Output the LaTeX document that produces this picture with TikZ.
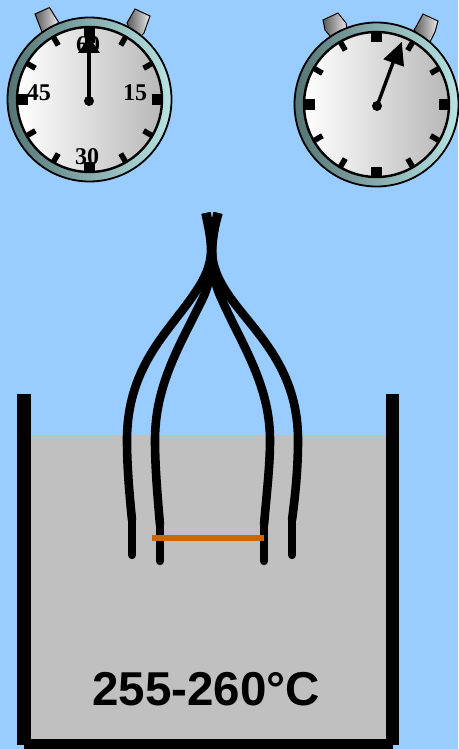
\documentclass[tikz,border=0pt]{standalone}
\usepackage{fontspec}
\setmainfont{Liberation Serif}
\newfontfamily\labelsans{Liberation Sans}
\definecolor{bgblue}{HTML}{99CCFF}
\definecolor{bathgrey}{HTML}{C0C0C0}
\definecolor{ringdark}{HTML}{557474}
\definecolor{ringlight}{HTML}{B8E4E4}
\definecolor{facegrey}{HTML}{B8B8B8}
\definecolor{barorange}{HTML}{CC6600}
\tikzset{
  wire/.style={line width=8.6pt,black,line cap=butt},
  wirestub/.style={line width=8.4pt,black,line cap=round},
  ring/.style={draw=black,line width=1.8pt,left color=ringdark,right color=ringlight},
  face/.style={draw=black,line width=2.4pt,left color=white,right color=facegrey},
  knob/.style={draw=black,line width=1pt,left color=black!65,right color=white!92!black},
  smalltick/.style={black,line width=5.5pt},
  bigtick/.style={black,line width=10.5pt},
  hand/.style={black,line width=3.4pt},
  dial/.style={font=\fontsize{24}{24}\selectfont\bfseries,inner sep=0pt},
  tempbox/.style={font=\labelsans\fontsize{47.5}{48}\selectfont\bfseries,inner sep=0pt},
  pics/stopclock/.style={code={
    \path[ring] (0,0) circle (82);
    \path[face] (0,0) circle (72.5);
    \foreach \a in {30,60,120,150,210,240,300,330}
      \draw[smalltick] (\a:62.5) -- (\a:73);
    \foreach \a in {0,90,180,270}
      \draw[bigtick] (\a:62) -- (\a:73);
  }},
}
\begin{document}
\begin{tikzpicture}[x=1pt,y=-1pt]
\useasboundingbox (0,0) rectangle (458,749);
\fill[bgblue] (0,0) rectangle (458,749);
% left clock
\path[knob] (35,14) -- (49.5,7.5) -- (58.5,22) -- (48,40) -- (42,32) -- cycle;
\path[knob] (135,9) -- (150,16) -- (144,33) -- (135,42) -- (127,23) -- cycle;
\pic at (89.5,99.5) {stopclock};
\fill (85,27) rectangle (94.5,43);
\node[dial] (n60) at (88,45) {60};
\node[dial] (n45) at (39,93) {45};
\node[dial] (n15) at (135,93) {15};
\node[dial] (n30) at (87,157) {30};
\fill (89,37) -- (100,53) -- (78,53) -- cycle;
\draw[hand] (89,101) -- (89,50);
\fill (89,101) circle (5);
% right clock
\path[knob] (323,20) -- (338,13) -- (346,23) -- (347,30) -- (335,42) -- (325,30) -- cycle;
\path[knob] (423,14) -- (438,21) -- (435,32) -- (428,46) -- (414,30) -- (417,25) -- cycle;
\pic at (376.5,104.5) {stopclock};
\fill (401.7,42) -- (404,66.7) -- (383.3,59.3) -- cycle;
\draw[hand] (377,106) -- (394,60);
\fill (377,106) circle (5);
% bath
\fill[bathgrey] (30,435) rectangle (386,740);
\fill (17,394) rectangle (30.5,745);
\fill (385.5,394) rectangle (399,745);
\fill (24,739) rectangle (392.5,749);
% wires
\draw[wire] (132,520) .. controls (129,490) and (127,465) .. (127,440)
  .. controls (127,370) and (165,335) .. (190,300)
  .. controls (200,286) and (211,270) .. (211,250)
  .. controls (211,238) and (208,225) .. (205.5,213);
\draw[wire] (160,525) .. controls (157,490) and (155,465) .. (155,440)
  .. controls (155,385) and (180,345) .. (202,300)
  .. controls (208,288) and (212,272) .. (212,255)
  .. controls (212,240) and (209,225) .. (206.5,213);
\draw[wire] (264,525) .. controls (267,490) and (270,465) .. (270,440)
  .. controls (270,385) and (242,345) .. (222,300)
  .. controls (216,288) and (212,272) .. (212,255)
  .. controls (212,240) and (215,225) .. (217.5,213);
\draw[wire] (292,520) .. controls (296,490) and (298,465) .. (298,440)
  .. controls (298,370) and (258,335) .. (232,300)
  .. controls (222,286) and (212,270) .. (212,250)
  .. controls (212,238) and (215,225) .. (218.5,213);
\draw[wirestub] (132,520) -- (132,555);
\draw[wirestub] (160,526) -- (160,561);
\draw[wirestub] (264,526) -- (264,561);
\draw[wirestub] (292,520) -- (292,555);
\fill[barorange] (152,535) rectangle (264,541);
\node[tempbox] (temp) at (206,689) {255-260°C};
\end{tikzpicture}
\end{document}
